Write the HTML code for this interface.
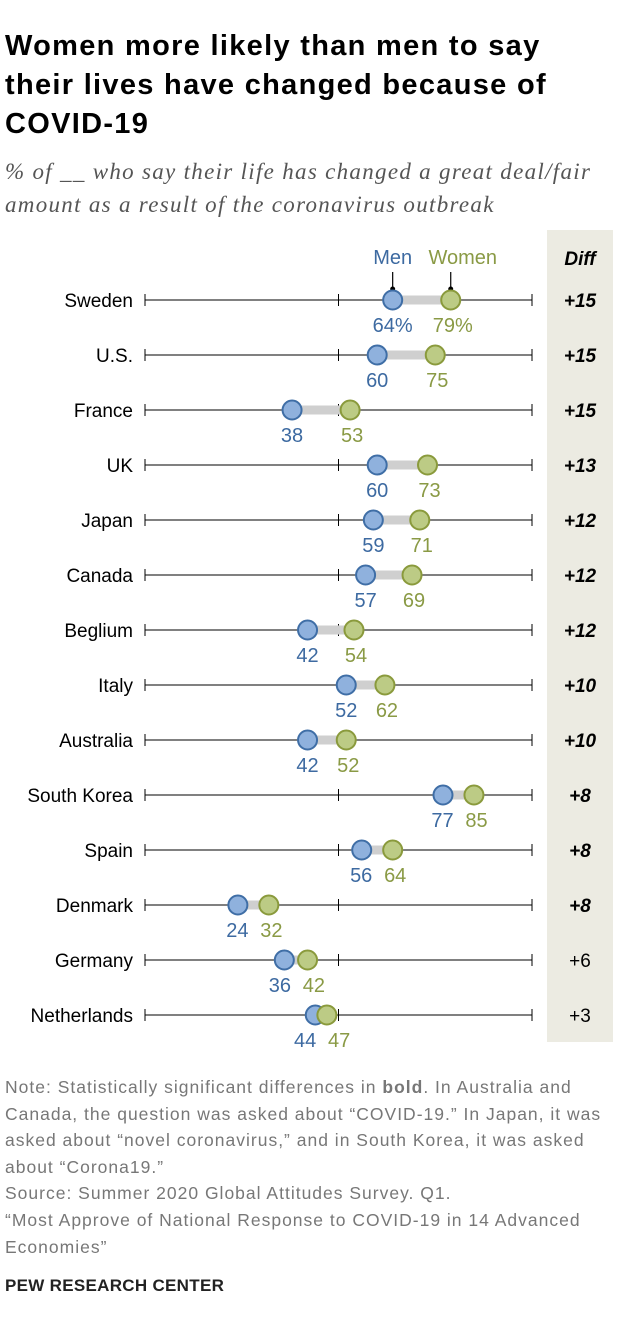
<!DOCTYPE html>
<html><head><meta charset="utf-8">
<style>
body{margin:0;width:620px;height:1332px;background:#fff;font-family:"Liberation Sans",sans-serif;overflow:hidden;position:relative}
.t{position:absolute;left:5px;top:27px;font-size:29px;font-weight:bold;line-height:39px;color:#000;white-space:nowrap;letter-spacing:1.3px}
.s{position:absolute;left:5px;top:155px;font-family:"Liberation Serif",serif;font-style:italic;font-size:23px;line-height:33px;color:#555;white-space:nowrap;letter-spacing:1.3px}
.n{position:absolute;left:5px;top:1074px;font-size:17.5px;line-height:26.6px;color:#777;white-space:nowrap;letter-spacing:1px}
.p{position:absolute;left:5px;top:1276px;font-size:17px;font-weight:bold;color:#222;letter-spacing:0.3px}
</style></head><body>
<div class="t">Women more likely than men to say<br>their lives have changed because of<br>COVID-19</div>
<div class="s">% of __ who say their life has changed a great deal/fair<br>amount as a result of the coronavirus outbreak</div>
<svg id="c" width="620" height="1332" style="position:absolute;left:0;top:0"></svg>
<div class="n">Note: Statistically significant differences in <b>bold</b>. In Australia and<br>Canada, the question was asked about “COVID-19.” In Japan, it was<br>asked about “novel coronavirus,” and in South Korea, it was asked<br>about “Corona19.”<br>Source: Summer 2020 Global Attitudes Survey. Q1.<br>“Most Approve of National Response to COVID-19 in 14 Advanced<br>Economies”</div>
<div class="p">PEW RESEARCH CENTER</div>
<script>
const countries=["Sweden","U.S.","France","UK","Japan","Canada","Beglium","Italy","Australia","South Korea","Spain","Denmark","Germany","Netherlands"];
const men=[64,60,38,60,59,57,42,52,42,77,56,24,36,44];
const women=[79,75,53,73,71,69,54,62,52,85,64,32,42,47];
const diffs=["+15","+15","+15","+13","+12","+12","+12","+10","+10","+8","+8","+8","+6","+3"];
const sig=[1,1,1,1,1,1,1,1,1,1,1,1,0,0];
const ticks=[0,50,100];
const NS="http://www.w3.org/2000/svg";
const svg=document.getElementById("c");
const x=v=>145+v*3.87;
const y=i=>300+i*55;
function mk(t,a,txt){const e=document.createElementNS(NS,t);for(const k in a)e.setAttribute(k,a[k]);if(txt!==undefined)e.textContent=txt;svg.appendChild(e);return e;}
let e=mk("rect",{x:547,y:230,width:66,height:812,fill:"#ecebe2"});


e=mk("text",{x:580,y:265,"text-anchor":"middle","font-size":19,"font-weight":"bold","font-style":"italic",fill:"#000"},"Diff");


e=mk("text",{x:x(men[0]),y:264,"text-anchor":"middle","font-size":20,fill:"#3d6aa1"},"Men");


e=mk("text",{x:x(women[0])+12,y:264,"text-anchor":"middle","font-size":20,fill:"#8a9a45"},"Women");


mk("line",{x1:x(men[0]),y1:272,x2:x(men[0]),y2:290,stroke:"#000","stroke-width":1.2});
mk("line",{x1:x(women[0]),y1:272,x2:x(women[0]),y2:290,stroke:"#000","stroke-width":1.2});
mk("circle",{cx:x(men[0]),cy:289,r:2.5,fill:"#000"});
mk("circle",{cx:x(women[0]),cy:289,r:2.5,fill:"#000"});
countries.forEach((c,i)=>{
 const yy=y(i);
 e=mk("text",{x:133,y:yy+7,"text-anchor":"end","font-size":19,fill:"#000"},c);
 
 
 mk("line",{x1:x(0),y1:yy,x2:x(100),y2:yy,stroke:"#000","stroke-width":1});
 ticks.forEach(t=>mk("line",{x1:x(t),y1:yy-6,x2:x(t),y2:yy+6,stroke:"#000","stroke-width":1}));
 e=mk("line",{x1:x(men[i]),y1:yy,x2:x(women[i]),y2:yy,stroke:"#cfcfcf","stroke-width":9});
 
 
 e=mk("circle",{cx:x(men[i]),cy:yy,r:9.5,fill:"#8fb1dd",stroke:"#3f6ea6","stroke-width":2});
 
 
 e=mk("circle",{cx:x(women[i]),cy:yy,r:9.5,fill:"#bccb85",stroke:"#8a9a3c","stroke-width":2});
 
 
 let mx=x(men[i]),wx=x(women[i]);
 const gap=wx-mx;
 if(gap<32){const d=(32-gap)/2;mx-=d;wx+=d;}
 e=mk("text",{x:mx,y:yy+32,"text-anchor":"middle","font-size":20,fill:"#3d6aa1"},men[i]+(i==0?"%":""));
 
 
 e=mk("text",{x:wx+2,y:yy+32,"text-anchor":"middle","font-size":20,fill:"#8a9a45"},women[i]+(i==0?"%":""));
 
 
 e=mk("text",{x:580,y:yy+7,"text-anchor":"middle","font-size":19,"font-weight":sig[i]?"bold":"normal","font-style":sig[i]?"italic":"normal",fill:"#000"},diffs[i]);
 
 
});
</script>
</body></html>
